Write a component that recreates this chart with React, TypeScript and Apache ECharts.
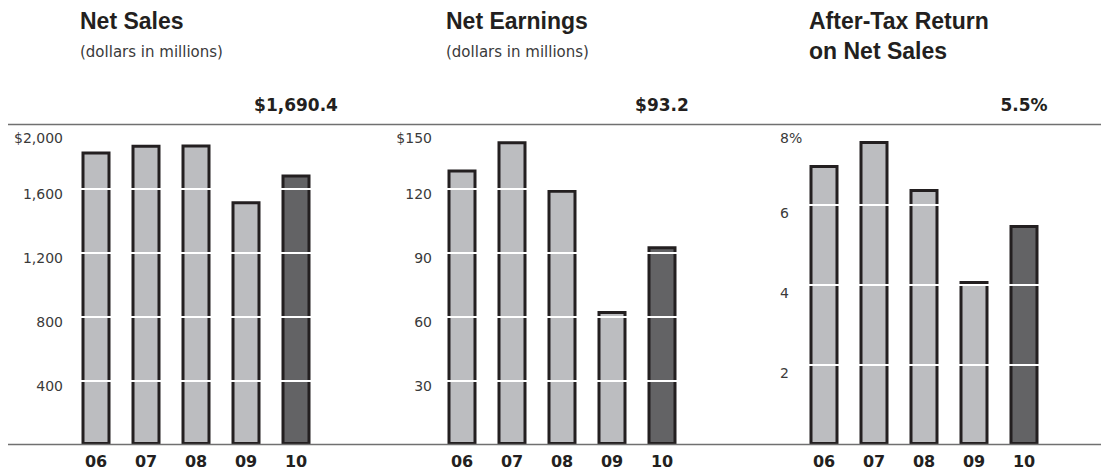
import React, { useEffect, useRef } from "react";
import * as echarts from "echarts";

const categories = ["06", "07", "08", "09", "10"];
const netSales = [1835.1, 1876.9, 1878.2, 1523.4, 1690.4];
const netEarnings = [129.1, 142.4, 119.7, 62.8, 93.2];
const afterTaxReturn = [7.0, 7.6, 6.4, 4.1, 5.5];

const salesTicks = ["", "400", "800", "1,200", "1,600", "$2,000"];
const earningsTicks = ["", "30", "60", "90", "120", "$150"];
const returnTicks = ["", "2", "4", "6", "8%"];

const headlineValues = ["$1,690.4", "$93.2", "5.5%"];

const LIGHT = "#bcbdc0";
const DARK = "#636365";
const INK = "#231f20";
const LABEL = "#3a3a3a";
const RULE = "#707070";
const REG = "DejaVu Sans";
const TITLE_FONT = "Liberation Sans";

const GRID_LEFTS = [71, 437, 799];
const GRID_TOP = 125;
const GRID_H = 320;
const GRID_W = 250;

function makeYAxis(
  gridIndex: number,
  max: number,
  interval: number,
  ticks: string[],
  align: "left" | "right",
  margin: number,
  pm: number,
  pt: number
) {
  const base = { fontFamily: REG, fontSize: 14, color: LABEL };
  return {
    type: "value",
    gridIndex,
    min: 0,
    max,
    interval,
    z: 5,
    axisLine: { show: false },
    axisTick: { show: false },
    splitLine: {
      show: true,
      showMinLine: false,
      lineStyle: { color: "#ffffff", width: 2 },
    },
    axisLabel: {
      show: true,
      align,
      margin,
      formatter: (v: number) => {
        const i = Math.round(v / interval);
        const t = ticks[i];
        if (!t) return "";
        return i === ticks.length - 1 ? `{t|${t}}` : `{m|${t}}`;
      },
      rich: {
        m: { ...base, padding: [pm, 0, 0, 0] },
        t: { ...base, padding: [pt, 0, 0, 0] },
      },
    },
  };
}

function makeXAxis(gridIndex: number) {
  return {
    type: "category",
    gridIndex,
    data: categories,
    axisLine: { show: false },
    axisTick: { show: false },
    splitLine: { show: false },
    axisLabel: {
      margin: 8,
      fontFamily: REG,
      fontWeight: "bold",
      fontSize: 16,
      color: INK,
    },
  };
}

function makeSeries(idx: number, values: number[]) {
  const last = values.length - 1;
  return {
    type: "bar",
    xAxisIndex: idx,
    yAxisIndex: idx,
    barWidth: 29,
    z: 2,
    itemStyle: { color: LIGHT, borderColor: INK, borderWidth: 3 },
    data: values.map((v, i) =>
      i === last ? { value: v, itemStyle: { color: DARK } } : v
    ),
  };
}

export default function App() {
  const ref = useRef<HTMLDivElement>(null);

  useEffect(() => {
    if (!ref.current) return;
    const chart = echarts.init(ref.current, undefined, { renderer: "svg" });

    const titleStyle = (text: string, x: number, y: number) => ({
      type: "text",
      x,
      y,
      z: 100,
      style: {
        text,
        fontFamily: TITLE_FONT,
        fontWeight: "bold",
        fontSize: 23,
        fill: INK,
        align: "left",
        verticalAlign: "middle",
      },
    });
    const subStyle = (text: string, x: number, y: number) => ({
      type: "text",
      x,
      y,
      z: 100,
      style: {
        text,
        fontFamily: REG,
        fontSize: 15,
        fill: LABEL,
        align: "left",
        verticalAlign: "middle",
      },
    });
    const headStyle = (text: string, x: number) => ({
      type: "text",
      x,
      y: 105,
      z: 100,
      style: {
        text,
        fontFamily: REG,
        fontWeight: "bold",
        fontSize: 17,
        fill: INK,
        align: "center",
        verticalAlign: "middle",
      },
    });

    const lastCenters = GRID_LEFTS.map((l) => l + GRID_W - GRID_W / 10);

    chart.setOption({
      animation: false,
      backgroundColor: "#ffffff",
      grid: GRID_LEFTS.map((left) => ({
        left,
        top: GRID_TOP,
        width: GRID_W,
        height: GRID_H,
        containLabel: false,
      })),
      xAxis: [makeXAxis(0), makeXAxis(1), makeXAxis(2)],
      yAxis: [
        makeYAxis(0, 2000, 400, salesTicks, "right", 8, 10, 26),
        makeYAxis(1, 150, 30, earningsTicks, "right", 5, 10, 26),
        makeYAxis(2, 8, 2, returnTicks, "left", 19, 16, 26),
      ],
      series: [
        makeSeries(0, netSales),
        makeSeries(1, netEarnings),
        makeSeries(2, afterTaxReturn),
      ],
      graphic: [
        {
          type: "line",
          z: 100,
          shape: { x1: 8, y1: 124.5, x2: 1101, y2: 124.5 },
          style: { stroke: RULE, lineWidth: 1.5 },
        },
        {
          type: "line",
          z: 100,
          shape: { x1: 8, y1: 444.5, x2: 1101, y2: 444.5 },
          style: { stroke: RULE, lineWidth: 1.5 },
        },
        titleStyle("Net Sales", 80, 21),
        subStyle("(dollars in millions)", 80, 52),
        titleStyle("Net Earnings", 446, 21),
        subStyle("(dollars in millions)", 446, 52),
        titleStyle("After-Tax Return", 809, 21),
        titleStyle("on Net Sales", 809, 51),
        headStyle(headlineValues[0], lastCenters[0]),
        headStyle(headlineValues[1], lastCenters[1]),
        headStyle(headlineValues[2], lastCenters[2]),
      ],
    });

    return () => chart.dispose();
  }, []);

  return (
    <div
      ref={ref}
      style={{ position: "fixed", left: 0, top: 0, width: 1101, height: 470 }}
    />
  );
}
